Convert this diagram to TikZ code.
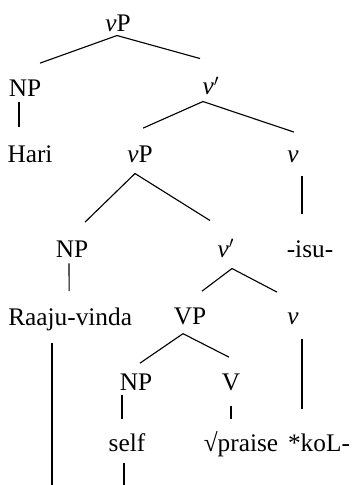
\documentclass[tikz,border=0pt]{standalone}
\usepackage{fontspec}
\setmainfont{Liberation Serif}
\usetikzlibrary{calc}
\tikzset{
  lbl/.style={anchor=base, inner sep=0pt, font=\fontsize{18}{20}\selectfont},
  branch/.style={line width=0.8pt}
}

\begin{document}
\begin{tikzpicture}[x=0.025cm, y=-0.025cm]
\useasboundingbox (0,0) rectangle (351,485);

% labels, row by row
\node (vPa) [lbl] at (118,32) {\textit{v}P};

\node (NPa) [lbl] at (25,97) {NP};
\node (vbara) [lbl] at (211,95) {\textit{v}$'$};

\node (Hari) [lbl] at (30,162) {Hari};
\node (vPb) [lbl] at (140,162) {\textit{v}P};
\node (va) [lbl] at (293,162) {\textit{v}};

\node (NPb) [lbl] at (72,257) {NP};
\node (vbarb) [lbl] at (226,257) {\textit{v}$'$};
\node (isu) [lbl] at (310,257) {-isu-};

\node (raaju) [lbl, anchor=base west] at (8,325) {Raaju-vinda};
\node (VPa) [lbl] at (190,324) {VP};
\node (vb) [lbl] at (293,324) {\textit{v}};

\node (NPc) [lbl] at (136,390) {NP};
\node (Va) [lbl] at (231,390) {V};

\node (self) [lbl] at (127,451) {self};
\node (praise) [lbl] at (241,451) {√praise};
\node (koL) [lbl] at (319,451) {*koL-};

\coordinate (endR) at (52,485);
\coordinate (endS) at (124,485);

% branches
\draw [branch] ($(vPa.south)+(-1,3)$) -- ($(NPa.north)+(15,-17)$);
\draw [branch] ($(vPa.south)+(-1,3)$) -- ($(vbara.north)+(-11,-18)$);
\draw [branch] ($(NPa.south)+(-6,5)$) -- ($(Hari.north)+(-11,-18)$);
\draw [branch] ($(vbara.south)+(-8,6)$) -- ($(vPb.north)+(3,-17)$);
\draw [branch] ($(vbara.south)+(-8,6)$) -- ($(va.north)+(1,-18)$);
\draw [branch] ($(vPb.south)+(-5,11)$) -- ($(NPb.north)+(13,-18)$);
\draw [branch] ($(vPb.south)+(-5,11)$) -- ($(vbarb.north)+(-16,-18)$);
\draw [branch] ($(va.south)+(9,13)$) -- ($(isu.north)+(-8,-26)$);
\draw [branch] ($(NPb.south)+(-3,6)$) -- ($(raaju.north)+(-1,-16)$);
\draw [branch] ($(vbarb.south)+(6,11)$) -- ($(VPa.north)+(12,-16)$);
\draw [branch] ($(vbarb.south)+(6,11)$) -- ($(vb.north)+(-16,-20)$);
\draw [branch] ($(VPa.south)+(-7,9)$) -- ($(NPc.north)+(4,-10)$);
\draw [branch] ($(VPa.south)+(-7,9)$) -- ($(Va.north)+(-2,-16)$);
\draw [branch] ($(vb.south)+(9,14)$) -- ($(koL.north)+(-17,-24)$);
\draw [branch] ($(NPc.south)+(-14,5)$) -- ($(self.north)+(-5,-14)$);
\draw [branch] ($(Va.south)+(0,15)$) -- ($(praise.north)+(-10,-12)$);
\draw [branch] ($(endR |- raaju.south)+(0,12)$) -- (endR);
\draw [branch] ($(endS |- self.south)+(0,11)$) -- (endS);

\end{tikzpicture}
\end{document}
